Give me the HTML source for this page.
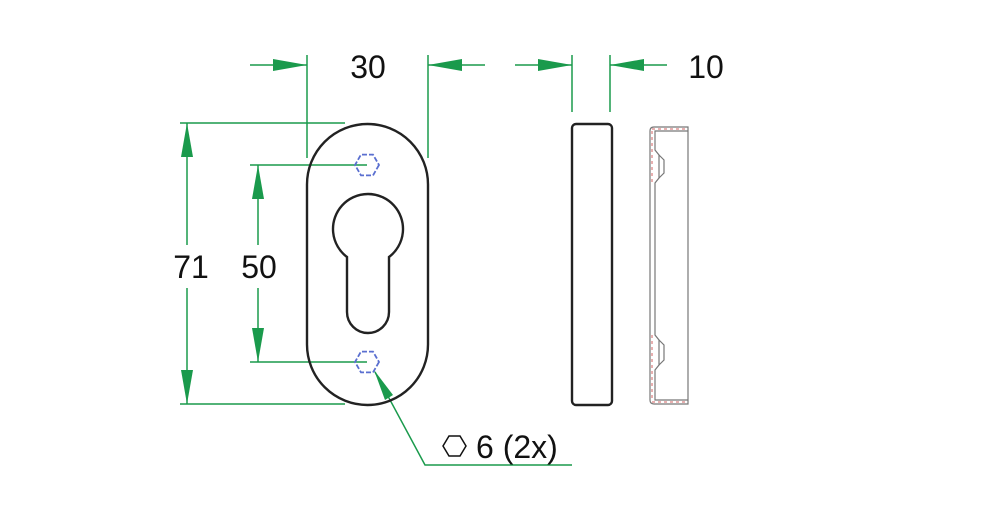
<!DOCTYPE html>
<html><head><style>body{margin:0;background:#fff}svg{display:block}</style></head><body>
<svg width="1000" height="528" viewBox="0 0 1000 528" xmlns="http://www.w3.org/2000/svg" font-family="Liberation Sans, sans-serif">
<defs>
<marker id="a" viewBox="0 0 10 10" refX="10" refY="5" markerWidth="34" markerHeight="12" orient="auto-start-reverse" markerUnits="userSpaceOnUse" preserveAspectRatio="none"><path d="M0,0 L10,5 L0,10 z" fill="#1a9a4c"/></marker>
</defs>
<g stroke="#1a9a4c" stroke-width="1.5" fill="none">
<line x1="307" y1="55" x2="307" y2="158"/><line x1="428" y1="55" x2="428" y2="158"/>
<line x1="250" y1="65" x2="307" y2="65" marker-end="url(#a)"/>
<line x1="485" y1="65" x2="428" y2="65" marker-end="url(#a)"/>
<line x1="572" y1="55" x2="572" y2="112"/><line x1="610" y1="55" x2="610" y2="112"/>
<line x1="515" y1="65" x2="572" y2="65" marker-end="url(#a)"/>
<line x1="667" y1="65" x2="610" y2="65" marker-end="url(#a)"/>
<line x1="180" y1="123" x2="345" y2="123"/><line x1="180" y1="404" x2="345" y2="404"/>
<line x1="187" y1="123" x2="187" y2="245" marker-start="url(#a)"/>
<line x1="187" y1="288" x2="187" y2="404" marker-end="url(#a)"/>
<line x1="250" y1="165" x2="367" y2="165"/><line x1="250" y1="362" x2="367" y2="362"/>
<line x1="258" y1="165" x2="258" y2="245" marker-start="url(#a)"/>
<line x1="258" y1="288" x2="258" y2="362" marker-end="url(#a)"/>
<polyline points="375,372 425,465 572,465"/>
</g>
<path d="M374,370 L393,395 L385,400 z" fill="#1a9a4c"/>
<rect x="307" y="124" width="121" height="281" rx="60.5" fill="none" stroke="#222" stroke-width="2.4"/>
<path d="M347,257 A35,35 0 1 1 389,257 L389,312 A21,21 0 0 1 347,312 Z" fill="none" stroke="#222" stroke-width="2.4"/>
<g fill="none" stroke="#5a6fd0" stroke-width="1.8" stroke-dasharray="5,2">
<polygon points="379,165 373,175.4 361,175.4 355,165 361,154.6 373,154.6"/>
<polygon points="379,362 373,372.4 361,372.4 355,362 361,351.6 373,351.6"/>
</g>
<rect x="572" y="124" width="40" height="281" rx="4" fill="none" stroke="#222" stroke-width="2.4"/>
<g fill="none" stroke="#777" stroke-width="1.2">
<path d="M688,127 L654,127 Q650,127 650,131 L650,400 Q650,404 654,404 L688,404 Z"/>
<path d="M688,131 L655,131 L655,150 L659,155 L659,178 L655,183 L655,335 L659,340 L659,365 L655,370 L655,400 L688,400"/>
<path d="M659,155 L664,160 L664,173 L659,178 M659,340 L664,345 L664,360 L659,365"/>
</g>
<g fill="none" stroke="#d06060" stroke-width="1" stroke-dasharray="3,3">
<line x1="652" y1="129" x2="686" y2="129"/><line x1="652" y1="402" x2="686" y2="402"/>
<line x1="652" y1="131" x2="652" y2="185"/><line x1="652" y1="335" x2="652" y2="400"/>
</g>
<g font-size="32" fill="#111">
<text x="368" y="78" text-anchor="middle">30</text>
<text x="706" y="78" text-anchor="middle">10</text>
<text x="191" y="278" text-anchor="middle">71</text>
<text x="259" y="278" text-anchor="middle">50</text>
<text x="476" y="458">6 (2x)</text>
</g>
<polygon points="466,446 460,456 449,456 443,446 449,436 460,436" fill="none" stroke="#111" stroke-width="1.5"/>
</svg>
</body></html>
